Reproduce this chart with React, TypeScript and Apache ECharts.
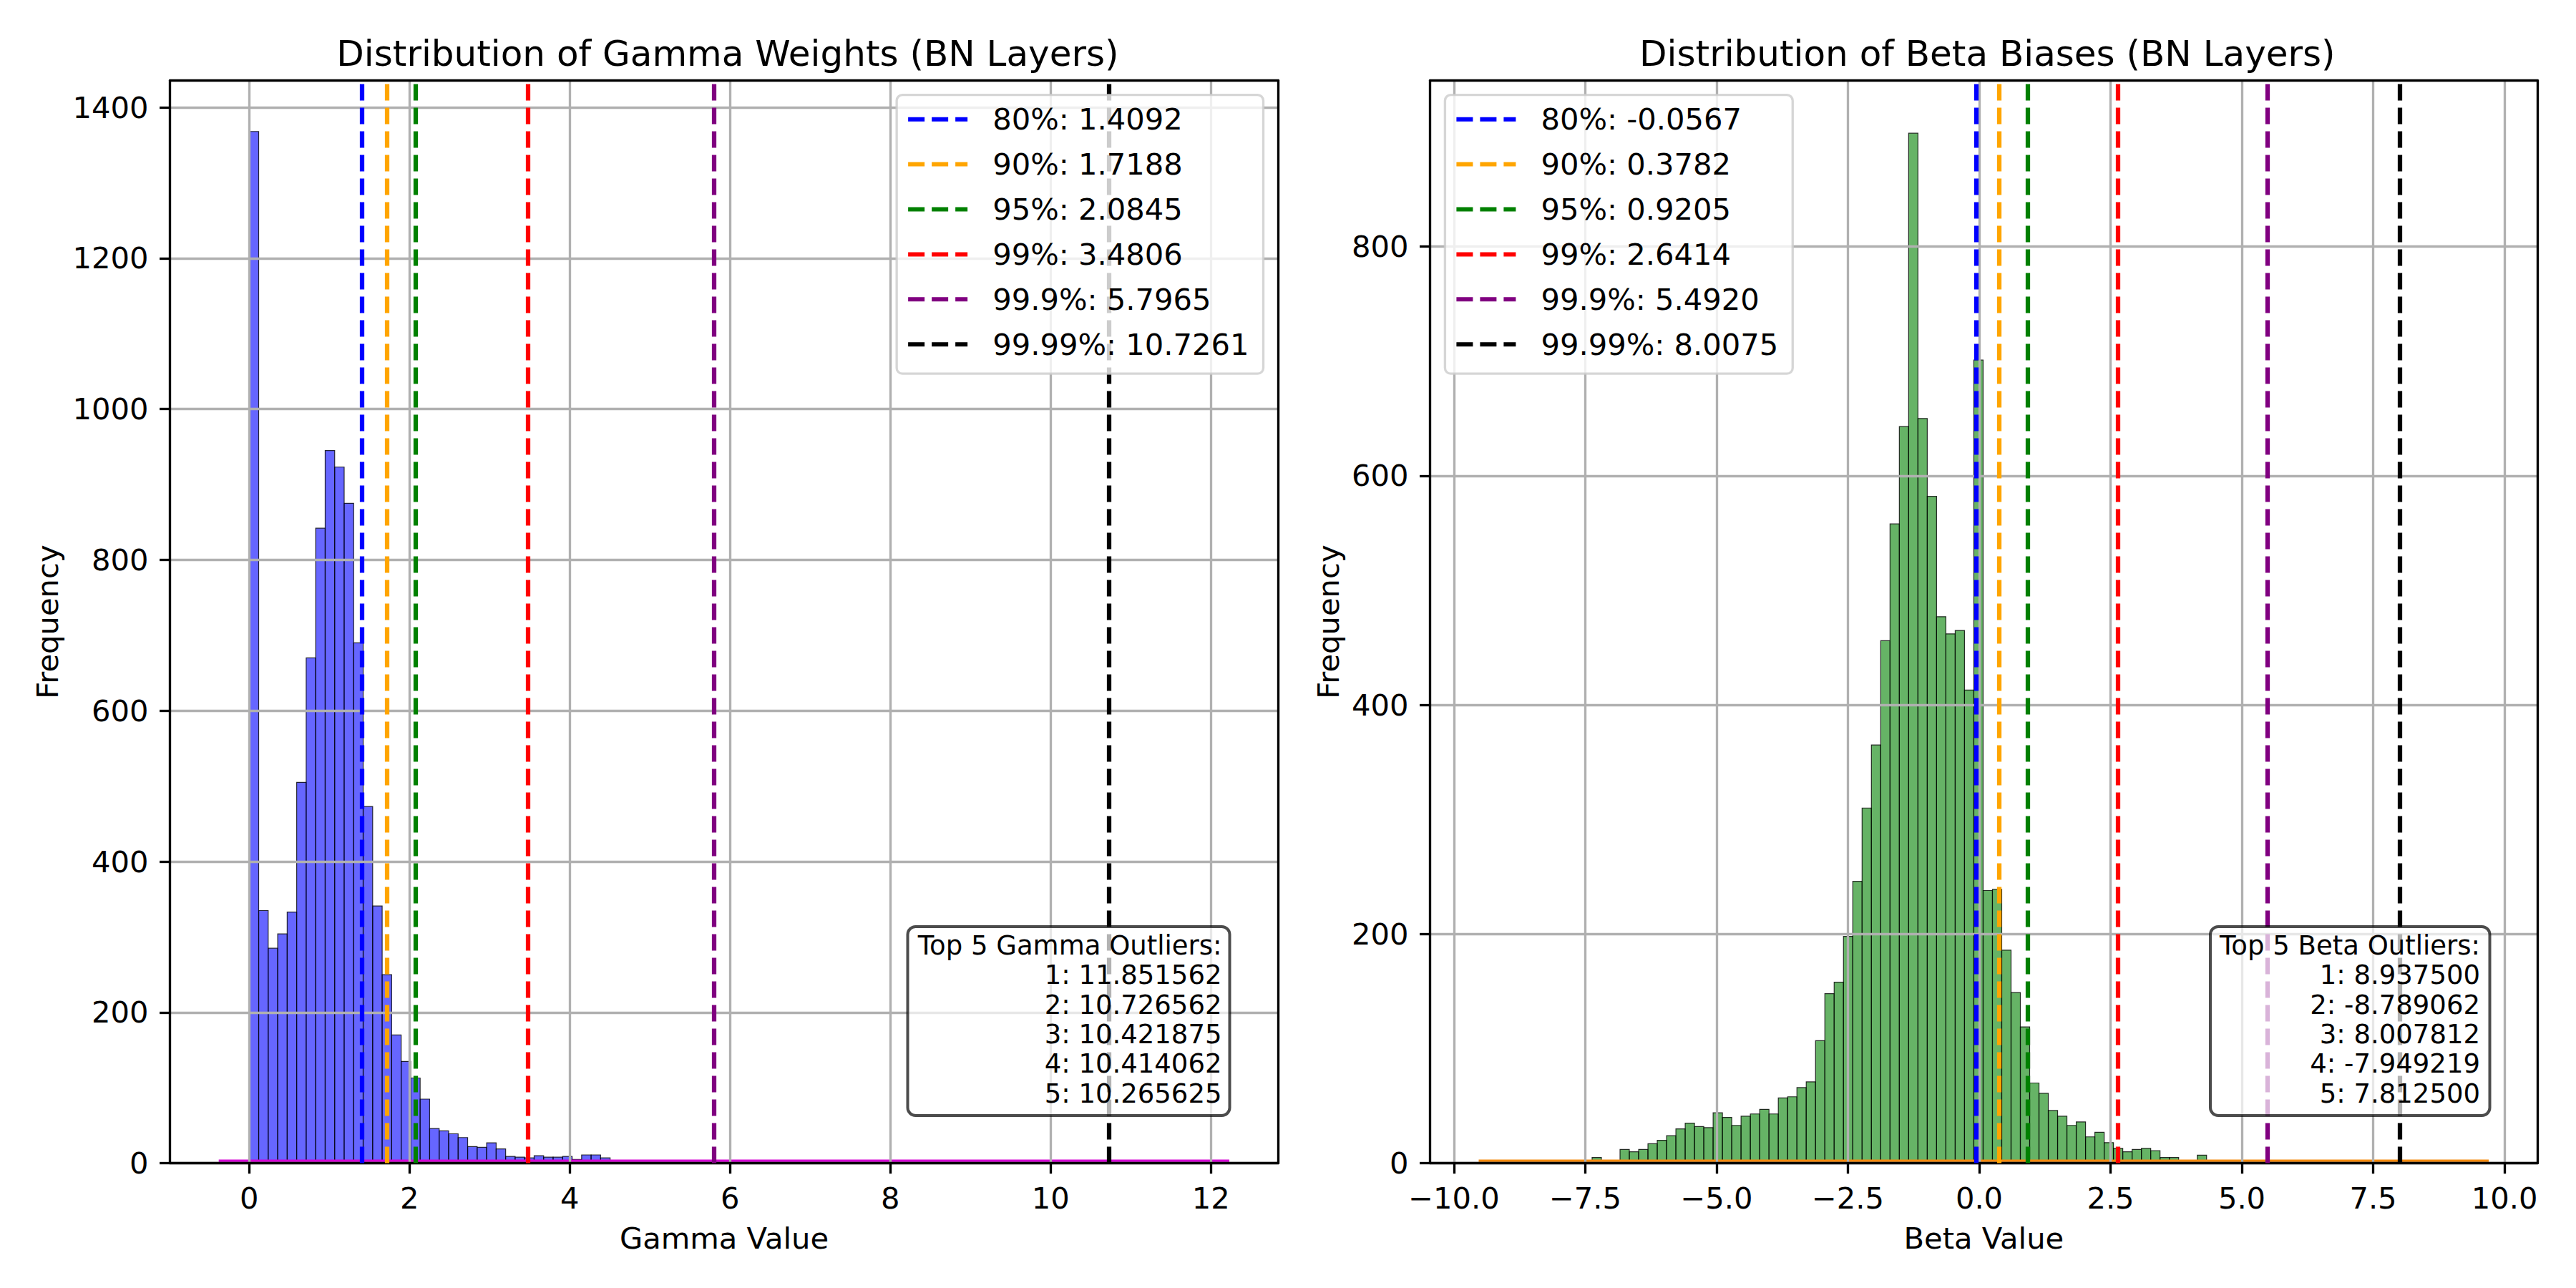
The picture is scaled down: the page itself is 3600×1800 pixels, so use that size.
import { useEffect, useRef } from 'react';
import * as echarts from 'echarts';

const FONT = 'DejaVu Sans';

// Gamma weights: 100 equal-width bins between the data min and max
const gammaRange = [0, 11.851562];
const gammaCounts = [
  1368, 335, 285, 304, 333, 505, 670, 842, 945, 923,
  875, 690, 473, 341, 250, 170, 135, 113, 85, 46,
  43, 39, 34, 22, 21, 27, 19, 9, 8, 7,
  10, 8, 8, 9, 5, 11, 11, 7, 3, 2,
  2, 1, 2, 1, 1, 1, 1, 0, 1, 0,
  1, 0, 0, 1, 0, 0, 0, 1, 0, 0,
  0, 0, 1, 0, 0, 0, 0, 0, 0, 0,
  1, 0, 0, 0, 0, 0, 0, 0, 0, 0,
  0, 0, 0, 0, 0, 0, 1, 2, 0, 0,
  1, 0, 0, 0, 0, 0, 0, 0, 0, 1,
];
const gammaKdeX = [-0.38, 12.23];
const gammaKdeY = [1.8, 1.8];
const gammaPctValues = [1.4092, 1.7188, 2.0845, 3.4806, 5.7965, 10.7261];
const gammaOutliers = [11.851562, 10.726562, 10.421875, 10.414062, 10.265625];
const gammaXTicks = [0, 2, 4, 6, 8, 10, 12];
const gammaYTicks = [0, 200, 400, 600, 800, 1000, 1200, 1400];

// Beta biases
const betaRange = [-8.789062, 8.9375];
const betaCounts = [
  1, 0, 0, 0, 1, 0, 0, 0, 5, 0,
  0, 12, 10, 12, 17, 20, 24, 30, 35, 32,
  31, 44, 40, 33, 41, 43, 47, 43, 57, 58,
  66, 71, 107, 148, 158, 198, 246, 310, 365, 456,
  558, 643, 899, 650, 582, 477, 462, 465, 413, 701,
  238, 239, 186, 149, 119, 70, 61, 46, 41, 33,
  36, 23, 27, 18, 13, 10, 12, 13, 11, 5,
  5, 2, 0, 7, 2, 0, 2, 0, 0, 0,
  2, 0, 0, 0, 0, 0, 0, 0, 0, 0,
  0, 0, 0, 2, 1, 0, 0, 0, 0, 1,
];
const betaKdeX = [-9.53, 9.7];
const betaKdeY = [1.2, 1.2];
const betaPctValues = [-0.0567, 0.3782, 0.9205, 2.6414, 5.492, 8.0075];
const betaOutliers = [8.9375, -8.789062, 8.007812, -7.949219, 7.8125];
const betaXTicks = [-10, -7.5, -5, -2.5, 0, 2.5, 5, 7.5, 10];
const betaYTicks = [0, 200, 400, 600, 800];

const pctLabels = ['80%', '90%', '95%', '99%', '99.9%', '99.99%'];
const pctColors = ['#0000ff', '#ffa500', '#008000', '#ff0000', '#800080', '#000000'];

const DASH_ICON = 'path://M0,0h23v6h-23z M33,0h23v6h-23z M66,0h17v6h-17z';
const LW = 3.33;
const FS = 41.67;

function binRows(range: number[], counts: number[]) {
  const w = (range[1] - range[0]) / counts.length;
  return counts.map((c, i) => [range[0] + i * w, range[0] + (i + 1) * w, c]);
}

const minus = (v: number | string) => String(v).replace('-', '\u2212');

const panels = [
  {
    title: 'Distribution of Gamma Weights (BN Layers)',
    xName: 'Gamma Value',
    range: gammaRange, counts: gammaCounts,
    fill: 'rgba(0,0,255,0.6)',
    kdeX: gammaKdeX, kdeY: gammaKdeY, kdeColor: '#d400d4',
    pct: gammaPctValues, outliers: gammaOutliers, outTitle: 'Top 5 Gamma Outliers:',
    xTicks: gammaXTicks, yTicks: gammaYTicks,
    xMin: -0.988, xMax: 12.84, yMax: 1435.6, step: 2,
    fmt: (v: number) => minus(v),
    grid: { left: 237.6, top: 112.5, width: 1548.7, height: 1513.1 },
    yNameGap: 150,
    legend: { right: 1834.5 },
    box: { x: 1268.5, y: 1295, w: 450, h: 264 }, textRight: 1707.5,
  },
  {
    title: 'Distribution of Beta Biases (BN Layers)',
    xName: 'Beta Value',
    range: betaRange, counts: betaCounts,
    fill: 'rgba(0,128,0,0.6)',
    kdeX: betaKdeX, kdeY: betaKdeY, kdeColor: '#f5890c',
    pct: betaPctValues, outliers: betaOutliers, outTitle: 'Top 5 Beta Outliers:',
    xTicks: betaXTicks, yTicks: betaYTicks,
    xMin: -10.455, xMax: 10.628, yMax: 945, step: 2.5,
    fmt: (v: number) => minus(v.toFixed(1)),
    grid: { left: 1998.6, top: 112.5, width: 1547.5, height: 1513.1 },
    yNameGap: 121,
    legend: { left: 2019.4 },
    box: { x: 3089, y: 1295, w: 390.5, h: 264 }, textRight: 3466,
  },
];

function buildOption() {
  const grid: any[] = [];
  const xAxis: any[] = [];
  const yAxis: any[] = [];
  const series: any[] = [];
  const legend: any[] = [];
  const title: any[] = [];
  const graphic: any[] = [];
  const txt = { fontFamily: FONT, fontSize: FS, color: '#000' };

  panels.forEach((p, idx) => {
    grid.push({ ...p.grid, containLabel: false });
    const ax = 2 * idx;

    xAxis.push({
      gridIndex: idx, type: 'value', position: 'bottom', z: 3,
      min: p.xMin, max: p.xMax, minInterval: p.step, maxInterval: p.step,
      name: p.xName, nameLocation: 'middle', nameGap: 84, nameTextStyle: txt,
      axisLine: { onZero: false, lineStyle: { color: '#000', width: LW } },
      axisTick: { customValues: p.xTicks, length: 14.6, lineStyle: { color: '#000', width: LW } },
      axisLabel: { customValues: p.xTicks, formatter: p.fmt, margin: 28, ...txt },
      splitLine: { show: true, lineStyle: { color: '#b0b0b0', width: LW } },
    });
    xAxis.push({
      gridIndex: idx, type: 'value', position: 'top', z: 5,
      min: p.xMin, max: p.xMax,
      axisLine: { show: true, onZero: false, lineStyle: { color: '#000', width: LW } },
      axisTick: { show: false }, axisLabel: { show: false }, splitLine: { show: false },
    });
    yAxis.push({
      gridIndex: idx, type: 'value', position: 'left', z: 3,
      min: 0, max: p.yMax, minInterval: 200, maxInterval: 200,
      name: 'Frequency', nameLocation: 'middle', nameGap: p.yNameGap, nameTextStyle: txt,
      axisLine: { show: true, onZero: false, lineStyle: { color: '#000', width: LW } },
      axisTick: { show: true, customValues: p.yTicks, length: 14.6, lineStyle: { color: '#000', width: LW } },
      axisLabel: { customValues: p.yTicks, formatter: (v: number) => String(v), margin: 30, ...txt },
      splitLine: { show: true, lineStyle: { color: '#b0b0b0', width: LW } },
    });
    yAxis.push({
      gridIndex: idx, type: 'value', position: 'right', z: 5,
      min: 0, max: p.yMax,
      axisLine: { show: true, onZero: false, lineStyle: { color: '#000', width: LW } },
      axisTick: { show: false }, axisLabel: { show: false }, splitLine: { show: false },
    });

    series.push({
      type: 'custom', xAxisIndex: ax, yAxisIndex: ax, z: 1, silent: true,
      data: binRows(p.range, p.counts),
      encode: { x: [0, 1], y: 2 },
      renderItem: (_params: any, api: any) => {
        const c = api.value(2);
        if (!c) return null;
        const a = api.coord([api.value(0), c]);
        const b = api.coord([api.value(1), 0]);
        return {
          type: 'rect',
          shape: { x: a[0], y: a[1], width: b[0] - a[0], height: b[1] - a[1] },
          style: { fill: p.fill, stroke: 'rgba(0,0,0,0.8)', lineWidth: 1.2 },
        };
      },
    });

    series.push({
      type: 'line', xAxisIndex: ax, yAxisIndex: ax, z: 2, silent: true,
      data: p.kdeX.map((x, i) => [x, p.kdeY[i]]),
      showSymbol: false, symbol: 'none',
      lineStyle: { color: p.kdeColor, width: 6.25 },
    });

    const names: string[] = [];
    p.pct.forEach((v, k) => {
      const name = `${pctLabels[k]}: ${v.toFixed(4)}`;
      names.push(name);
      series.push({
        type: 'line', name, xAxisIndex: ax, yAxisIndex: ax, z: 4,
        color: pctColors[k], itemStyle: { color: pctColors[k] },
        lineStyle: { color: pctColors[k] },
        data: [],
        markLine: {
          z: 4, silent: true, symbol: ['none', 'none'], label: { show: false },
          lineStyle: { color: pctColors[k], width: 6.25, type: [23, 10], opacity: 1 },
          emphasis: { disabled: true },
          data: [{ xAxis: v }],
        },
      });
    });

    legend.push({
      ...p.legend, top: 132.7, orient: 'vertical', data: names,
      icon: DASH_ICON, itemWidth: 83, itemHeight: 6.25, itemGap: 20.9,
      itemStyle: { borderWidth: 0 },
      textStyle: { ...txt, lineHeight: FS, padding: [0, 0, 0, 30] },
      padding: [13, 20, 20, 16],
      backgroundColor: 'rgba(255,255,255,0.8)',
      borderColor: 'rgba(204,204,204,0.8)', borderWidth: LW, borderRadius: 8,
      selectedMode: false, z: 10,
    });

    title.push({
      text: p.title, left: p.grid.left + p.grid.width / 2, top: 45, textAlign: 'center',
      textStyle: { fontFamily: FONT, fontSize: 50, fontWeight: 'normal', color: '#000' },
    });

    const lines = [p.outTitle, ...p.outliers.map((v, i) => `${i + 1}: ${v.toFixed(6)}`)];
    graphic.push({
      type: 'rect', z: 20,
      shape: { x: p.box.x, y: p.box.y, width: p.box.w, height: p.box.h, r: 11 },
      style: { fill: 'rgba(255,255,255,0.7)', stroke: 'rgba(0,0,0,0.7)', lineWidth: 4 },
    });
    graphic.push({
      type: 'text', z: 21, x: p.textRight, y: p.box.y + 6,
      style: {
        text: lines.join('\n'), fontFamily: FONT, fontSize: 37, lineHeight: 41.3, fill: '#000',
        align: 'right', verticalAlign: 'top', textAlign: 'right', textVerticalAlign: 'top',
      },
    });
  });

  return { animation: false, backgroundColor: '#fff', grid, xAxis, yAxis, series, legend, title, graphic };
}

export default function App() {
  const ref = useRef<HTMLDivElement>(null);

  useEffect(() => {
    document.body.style.margin = '0';
    if (!ref.current) return;
    const chart = echarts.init(ref.current, undefined, { renderer: 'svg' });
    chart.setOption(buildOption());
    return () => chart.dispose();
  }, []);

  return <div ref={ref} style={{ width: '3600px', height: '1800px' }} />;
}
